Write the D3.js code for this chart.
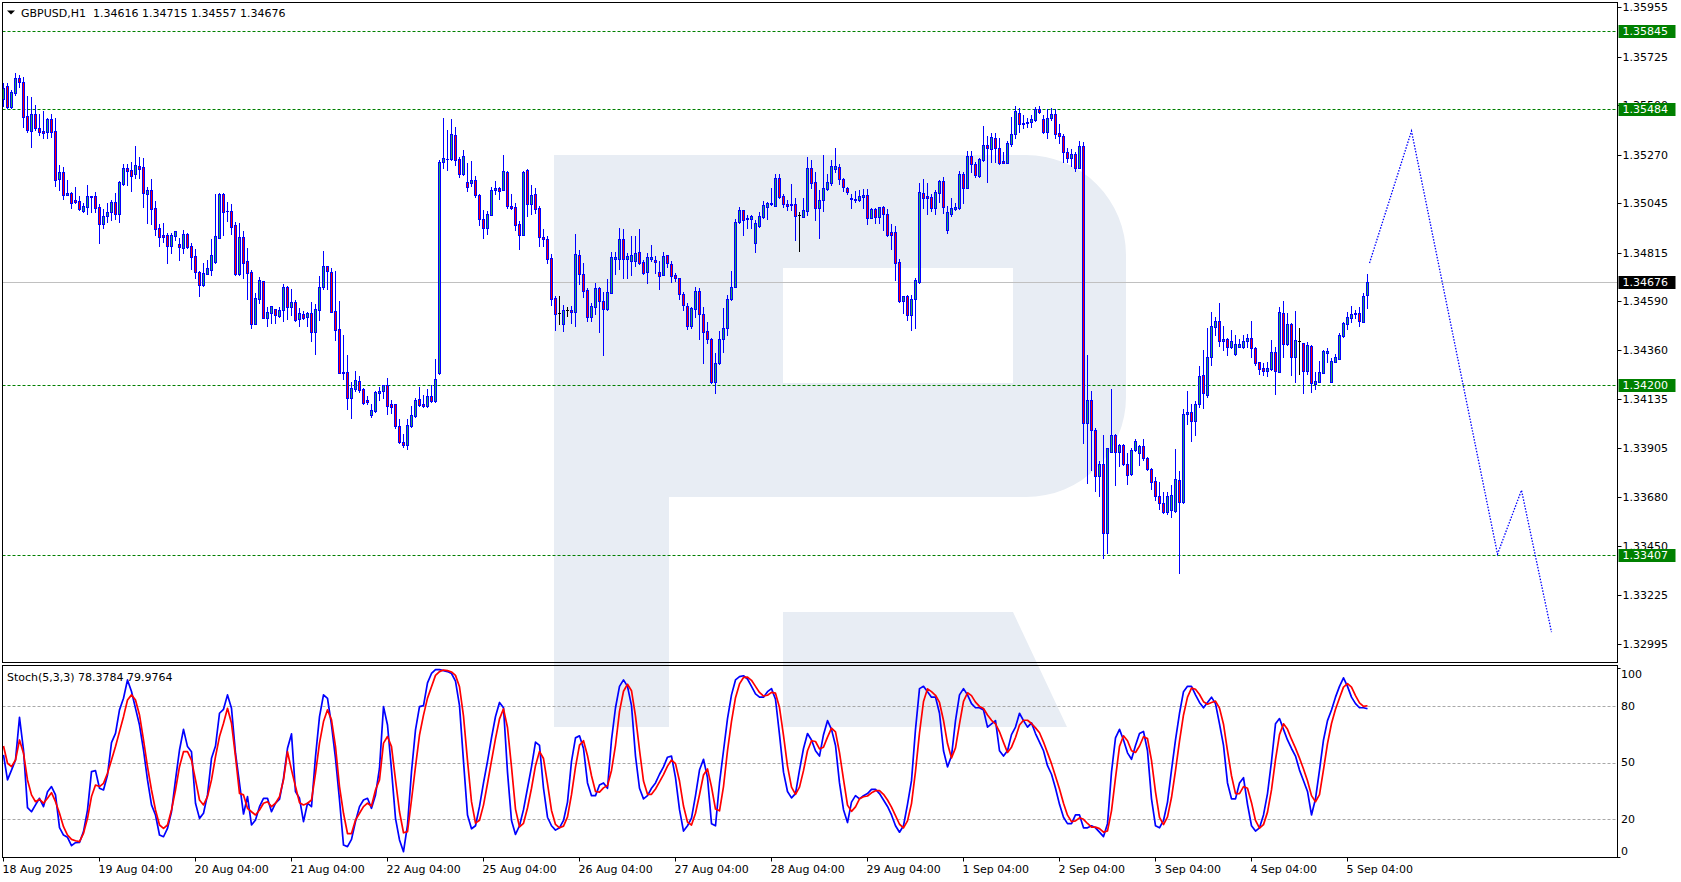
<!DOCTYPE html>
<html><head><meta charset="utf-8">
<script src="https://cdn.jsdelivr.net/npm/d3@7"></script>
<style>
html,body{margin:0;padding:0;background:#fff;}
svg{display:block;font-family:"DejaVu Sans",sans-serif;}
</style></head><body>
<svg id="c" width="1681" height="882"></svg>
<script>
const symbolTitle = "GBPUSD,H1  1.34616 1.34715 1.34557 1.34676";
const stochTitle = "Stoch(5,3,3) 78.3784 79.9764";

const open = [
1.35529,1.35588,1.35493,1.35558,1.35625,1.35606,1.35450,1.35382,1.35458,1.35393,
1.35380,1.35377,1.35434,1.35380,1.35158,1.35188,1.35084,1.35092,1.35058,1.35055,
1.35010,1.35028,1.35076,1.35076,1.35025,1.34949,1.34986,1.35002,1.35050,1.34993,
1.35135,1.35207,1.35197,1.35179,1.35216,1.35211,1.35089,1.35104,1.35021,1.34928,
1.34895,1.34897,1.34847,1.34893,1.34853,1.34838,1.34900,1.34844,1.34797,1.34726,
1.34664,1.34717,1.34735,1.34771,1.34884,1.35087,1.35008,1.35008,1.34943,1.34713,
1.34887,1.34775,1.34724,1.34484,1.34597,1.34681,1.34512,1.34535,1.34551,1.34521,
1.34546,1.34653,1.34563,1.34585,1.34507,1.34527,1.34517,1.34532,1.34447,1.34549,
1.34656,1.34752,1.34724,1.34543,1.34459,1.34258,1.34258,1.34137,1.34182,1.34217,
1.34180,1.34129,1.34058,1.34079,1.34163,1.34172,1.34197,1.34113,1.34110,1.34008,
1.33935,1.33918,1.34010,1.34056,1.34134,1.34110,1.34100,1.34148,1.34126,1.34253,
1.35234,1.35251,1.35251,1.35363,1.35249,1.35179,1.35143,1.35140,1.35153,1.35083,
1.34971,1.34931,1.34991,1.35106,1.35115,1.35106,1.35190,1.35032,1.35025,1.34948,
1.34898,1.35199,1.35042,1.35086,1.35021,1.34887,1.34878,1.34790,1.34604,1.34533,
1.34481,1.34546,1.34548,1.34540,1.34804,1.34715,1.34641,1.34514,1.34564,1.34650,
1.34590,1.34551,1.34629,1.34787,1.34784,1.34877,1.34784,1.34777,1.34777,1.34816,
1.34770,1.34723,1.34784,1.34781,1.34723,1.34712,1.34802,1.34760,1.34709,1.34695,
1.34621,1.34568,1.34475,1.34551,1.34636,1.34527,1.34450,1.34413,1.34214,1.34300,
1.34411,1.34465,1.34597,1.34656,1.34958,1.35011,1.34969,1.34969,1.34861,1.34940,
1.34982,1.35028,1.35039,1.35033,1.35160,1.35076,1.35039,1.35036,1.35040,1.34989,
1.34982,1.35009,1.35206,1.35143,1.35023,1.35059,1.35112,1.35140,1.35205,1.35212,
1.35157,1.35113,1.35070,1.35061,1.35061,1.35075,1.35082,1.34977,1.35017,1.34982,
1.35026,1.34994,1.34910,1.34910,1.34769,1.34591,1.34611,1.34524,1.34597,1.34676,
1.35090,1.35077,1.35073,1.35023,1.35094,1.35147,1.34921,1.34995,1.35017,1.35023,
1.35180,1.35116,1.35266,1.35226,1.35172,1.35245,1.35315,1.35296,1.35349,1.35301,
1.35240,1.35232,1.35319,1.35364,1.35462,1.35417,1.35415,1.35420,1.35432,1.35482,
1.35435,1.35377,1.35442,1.35459,1.35369,1.35356,1.35284,1.35256,1.35271,1.35206,
1.35310,1.34023,1.34129,1.33992,1.33777,1.33831,1.33513,1.33889,1.33966,1.33889,
1.33920,1.33834,1.33785,1.33896,1.33885,1.33916,1.33858,1.33807,1.33753,1.33685,
1.33649,1.33607,1.33618,1.33615,1.33758,1.33654,1.34064,1.34072,1.34033,1.34109,
1.34244,1.34153,1.34331,1.34471,1.34497,1.34405,1.34412,1.34378,1.34342,1.34378,
1.34378,1.34405,1.34416,1.34373,1.34306,1.34278,1.34263,1.34275,1.34351,1.34261,
1.34536,1.34391,1.34483,1.34331,1.34404,1.34393,1.34266,1.34381,1.34204,1.34215,
1.34257,1.34350,1.34215,1.34308,1.34322,1.34429,1.34483,1.34512,1.34528,1.34536,
1.34494,1.34616];
const high = [
1.35602,1.35602,1.35571,1.35648,1.35641,1.35630,1.35543,1.35538,1.35501,1.35458,
1.35473,1.35439,1.35458,1.35442,1.35222,1.35213,1.35152,1.35098,1.35120,1.35078,
1.35044,1.35129,1.35076,1.35098,1.35039,1.35016,1.35047,1.35059,1.35090,1.35148,
1.35227,1.35227,1.35234,1.35310,1.35259,1.35253,1.35120,1.35155,1.35055,1.34946,
1.34951,1.34904,1.34904,1.34917,1.34884,1.34920,1.34904,1.34858,1.34830,1.34729,
1.34765,1.34780,1.34878,1.35087,1.35093,1.35093,1.35051,1.35040,1.34957,1.34951,
1.34915,1.34834,1.34734,1.34625,1.34701,1.34681,1.34563,1.34568,1.34552,1.34561,
1.34667,1.34659,1.34645,1.34594,1.34555,1.34544,1.34538,1.34586,1.34575,1.34707,
1.34822,1.34754,1.34741,1.34729,1.34591,1.34431,1.34338,1.34211,1.34264,1.34241,
1.34183,1.34148,1.34110,1.34172,1.34188,1.34199,1.34233,1.34129,1.34113,1.34039,
1.33969,1.34039,1.34101,1.34140,1.34191,1.34152,1.34180,1.34199,1.34320,1.35245,
1.35439,1.35385,1.35434,1.35400,1.35261,1.35292,1.35233,1.35241,1.35171,1.35087,
1.35013,1.35008,1.35118,1.35148,1.35118,1.35269,1.35194,1.35087,1.35044,1.34962,
1.35193,1.35202,1.35129,1.35114,1.35029,1.34923,1.34892,1.34808,1.34613,1.34613,
1.34571,1.34564,1.34567,1.34901,1.34827,1.34768,1.34649,1.34581,1.34674,1.34657,
1.34633,1.34692,1.34819,1.34819,1.34931,1.34925,1.34812,1.34892,1.34892,1.34925,
1.34781,1.34812,1.34850,1.34799,1.34776,1.34818,1.34805,1.34776,1.34722,1.34698,
1.34632,1.34579,1.34563,1.34654,1.34648,1.34563,1.34493,1.34416,1.34346,1.34451,
1.34555,1.34617,1.34729,1.34971,1.35026,1.35013,1.34989,1.34989,1.34966,1.35005,
1.35054,1.35051,1.35113,1.35180,1.35180,1.35087,1.35059,1.35133,1.35067,1.35005,
1.35067,1.35261,1.35245,1.35191,1.35106,1.35268,1.35180,1.35245,1.35301,1.35225,
1.35163,1.35118,1.35085,1.35102,1.35106,1.35109,1.35109,1.35020,1.35020,1.35028,
1.35031,1.35017,1.34946,1.34938,1.34785,1.34613,1.34616,1.34616,1.34695,1.35139,
1.35156,1.35136,1.35085,1.35105,1.35152,1.35167,1.35031,1.35067,1.35046,1.35195,
1.35191,1.35287,1.35287,1.35237,1.35253,1.35403,1.35358,1.35372,1.35369,1.35346,
1.35284,1.35333,1.35446,1.35496,1.35488,1.35454,1.35439,1.35454,1.35493,1.35496,
1.35454,1.35480,1.35485,1.35480,1.35412,1.35366,1.35302,1.35296,1.35284,1.35333,
1.35330,1.34338,1.34171,1.33997,1.33847,1.33966,1.33907,1.34180,1.33969,1.33927,
1.33923,1.33881,1.33904,1.33947,1.33920,1.33948,1.33863,1.33812,1.33773,1.33747,
1.33700,1.33700,1.33734,1.33900,1.33799,1.34086,1.34171,1.34111,1.34126,1.34288,
1.34362,1.34466,1.34540,1.34517,1.34582,1.34474,1.34416,1.34455,1.34432,1.34412,
1.34432,1.34436,1.34497,1.34378,1.34308,1.34300,1.34305,1.34409,1.34378,1.34560,
1.34590,1.34536,1.34489,1.34543,1.34463,1.34396,1.34401,1.34385,1.34258,1.34311,
1.34362,1.34373,1.34323,1.34343,1.34443,1.34494,1.34540,1.34567,1.34548,1.34564,
1.34629,1.34715];
const low = [
1.35498,1.35486,1.35489,1.35548,1.35586,1.35400,1.35377,1.35307,1.35385,1.35362,
1.35349,1.35349,1.35354,1.35126,1.35106,1.35064,1.35082,1.35024,1.35044,1.35013,
1.35005,1.34994,1.35005,1.35005,1.34861,1.34931,1.34959,1.34966,1.34971,1.34959,
1.35129,1.35129,1.35101,1.35163,1.35160,1.35028,1.34954,1.34948,1.34897,1.34845,
1.34866,1.34768,1.34814,1.34873,1.34780,1.34814,1.34835,1.34738,1.34698,1.34614,
1.34661,1.34714,1.34711,1.34768,1.34881,1.34897,1.34962,1.34899,1.34710,1.34710,
1.34698,1.34599,1.34465,1.34482,1.34582,1.34509,1.34473,1.34489,1.34489,1.34517,
1.34496,1.34506,1.34524,1.34495,1.34473,1.34506,1.34473,1.34405,1.34343,1.34501,
1.34647,1.34647,1.34538,1.34408,1.34253,1.34227,1.34087,1.34047,1.34172,1.34168,
1.34113,1.34113,1.34051,1.34075,1.34129,1.34140,1.34064,1.34070,1.33997,1.33928,
1.33912,1.33900,1.34005,1.34048,1.34101,1.34095,1.34095,1.34121,1.34121,1.34250,
1.35206,1.35199,1.35245,1.35222,1.35168,1.35174,1.35103,1.35125,1.35072,1.34943,
1.34884,1.34901,1.34990,1.35087,1.35063,1.35106,1.35021,1.35019,1.34920,1.34832,
1.34895,1.34985,1.34994,1.34998,1.34843,1.34843,1.34768,1.34571,1.34455,1.34483,
1.34452,1.34520,1.34489,1.34474,1.34669,1.34610,1.34498,1.34498,1.34529,1.34447,
1.34339,1.34548,1.34629,1.34715,1.34737,1.34698,1.34698,1.34711,1.34750,1.34762,
1.34715,1.34675,1.34777,1.34722,1.34647,1.34712,1.34746,1.34680,1.34684,1.34598,
1.34548,1.34459,1.34465,1.34517,1.34411,1.34300,1.34396,1.34207,1.34160,1.34296,
1.34351,1.34431,1.34594,1.34656,1.34954,1.34898,1.34927,1.34927,1.34819,1.34935,
1.34974,1.34969,1.35036,1.35031,1.35067,1.35028,1.35013,1.35013,1.34873,1.34823,
1.34982,1.34989,1.35116,1.34966,1.34884,1.35008,1.35106,1.35129,1.35191,1.35132,
1.35102,1.35087,1.35020,1.35051,1.35054,1.35020,1.34947,1.34974,1.34954,1.34954,
1.34920,1.34892,1.34831,1.34687,1.34586,1.34532,1.34501,1.34455,1.34462,1.34674,
1.35023,1.34992,1.35008,1.34992,1.35051,1.34997,1.34907,1.34986,1.35012,1.35017,
1.35046,1.35113,1.35191,1.35167,1.35167,1.35240,1.35144,1.35237,1.35237,1.35226,
1.35229,1.35229,1.35311,1.35346,1.35377,1.35392,1.35400,1.35400,1.35426,1.35462,
1.35372,1.35349,1.35431,1.35349,1.35325,1.35234,1.35237,1.35218,1.35194,1.35206,
1.33930,1.33744,1.33803,1.33706,1.33684,1.33393,1.33416,1.33889,1.33734,1.33823,
1.33827,1.33741,1.33780,1.33892,1.33827,1.33851,1.33804,1.33716,1.33665,1.33621,
1.33603,1.33599,1.33584,1.33610,1.33327,1.33652,1.34018,1.33940,1.33967,1.34099,
1.34094,1.34145,1.34292,1.34432,1.34382,1.34362,1.34339,1.34373,1.34339,1.34374,
1.34370,1.34374,1.34328,1.34292,1.34250,1.34246,1.34241,1.34269,1.34157,1.34261,
1.34328,1.34385,1.34246,1.34215,1.34250,1.34161,1.34250,1.34168,1.34182,1.34215,
1.34257,1.34308,1.34215,1.34308,1.34319,1.34424,1.34460,1.34494,1.34509,1.34474,
1.34494,1.34557];
const close = [
1.35582,1.35493,1.35560,1.35625,1.35610,1.35447,1.35385,1.35458,1.35396,1.35377,
1.35372,1.35434,1.35377,1.35152,1.35188,1.35082,1.35092,1.35047,1.35051,1.35017,
1.35030,1.35076,1.35075,1.35021,1.34949,1.34983,1.35003,1.35050,1.34993,1.35141,
1.35207,1.35196,1.35172,1.35222,1.35205,1.35093,1.35104,1.35017,1.34926,1.34886,
1.34889,1.34847,1.34895,1.34914,1.34842,1.34900,1.34841,1.34796,1.34726,1.34664,
1.34718,1.34742,1.34802,1.34890,1.35087,1.35005,1.35007,1.34935,1.34713,1.34887,
1.34768,1.34721,1.34484,1.34602,1.34685,1.34512,1.34537,1.34565,1.34526,1.34546,
1.34653,1.34563,1.34585,1.34501,1.34532,1.34512,1.34532,1.34447,1.34551,1.34653,
1.34752,1.34727,1.34540,1.34456,1.34256,1.34256,1.34137,1.34185,1.34222,1.34175,
1.34117,1.34121,1.34082,1.34166,1.34169,1.34197,1.34103,1.34098,1.34010,1.33932,
1.33920,1.34013,1.34059,1.34129,1.34107,1.34100,1.34148,1.34126,1.34227,1.35236,
1.35254,1.35250,1.35366,1.35245,1.35179,1.35264,1.35118,1.35153,1.35083,1.34970,
1.34931,1.34994,1.35106,1.35115,1.35103,1.35193,1.35032,1.35022,1.34945,1.34898,
1.35190,1.35042,1.35081,1.35019,1.34889,1.34877,1.34787,1.34601,1.34531,1.34533,
1.34548,1.34546,1.34540,1.34808,1.34714,1.34638,1.34514,1.34565,1.34650,1.34588,
1.34551,1.34630,1.34794,1.34794,1.34877,1.34787,1.34799,1.34802,1.34812,1.34768,
1.34722,1.34794,1.34794,1.34770,1.34708,1.34799,1.34765,1.34708,1.34695,1.34621,
1.34570,1.34475,1.34555,1.34636,1.34527,1.34447,1.34411,1.34214,1.34300,1.34411,
1.34462,1.34597,1.34656,1.34955,1.35011,1.34968,1.34977,1.34985,1.34951,1.34985,
1.35034,1.35044,1.35044,1.35160,1.35075,1.35039,1.35033,1.35040,1.34986,1.34989,
1.35013,1.35206,1.35140,1.35023,1.35059,1.35113,1.35141,1.35217,1.35217,1.35155,
1.35118,1.35098,1.35062,1.35064,1.35076,1.35082,1.34977,1.35017,1.34982,1.35026,
1.34992,1.34896,1.34898,1.34765,1.34591,1.34611,1.34524,1.34599,1.34687,1.35096,
1.35070,1.35067,1.35023,1.35098,1.35147,1.35028,1.35003,1.35020,1.35026,1.35180,
1.35116,1.35263,1.35225,1.35175,1.35249,1.35315,1.35299,1.35350,1.35299,1.35232,
1.35232,1.35322,1.35366,1.35473,1.35411,1.35411,1.35423,1.35435,1.35482,1.35466,
1.35377,1.35439,1.35457,1.35367,1.35358,1.35284,1.35256,1.35271,1.35206,1.35310,
1.34023,1.34129,1.33989,1.33777,1.33831,1.33509,1.33904,1.33966,1.33889,1.33920,
1.33834,1.33783,1.33896,1.33940,1.33915,1.33858,1.33807,1.33750,1.33685,1.33649,
1.33607,1.33685,1.33686,1.33761,1.33657,1.34064,1.34072,1.34033,1.34111,1.34241,
1.34161,1.34328,1.34474,1.34497,1.34405,1.34413,1.34378,1.34404,1.34388,1.34390,
1.34404,1.34416,1.34370,1.34303,1.34275,1.34263,1.34278,1.34351,1.34266,1.34537,
1.34391,1.34483,1.34328,1.34409,1.34404,1.34266,1.34384,1.34207,1.34216,1.34258,
1.34357,1.34359,1.34311,1.34329,1.34432,1.34486,1.34514,1.34528,1.34536,1.34498,
1.34612,1.34676];

const stochK = [
54,40.8,46,51.3,73.9,56.6,26.2,24,27.6,31.1,
26.7,34.6,37.3,32.9,15.6,11.7,10.5,6.1,7.7,7.8,
13.5,24.9,45.2,45.7,36.4,35.5,43.4,60.5,65.4,77.8,
83.9,93.6,87.5,78.6,69.8,56.6,40.8,27.6,22.3,11.7,
10.8,15.2,24,40.8,56.6,67.5,58.4,55.7,28.5,20.5,
23.2,32.9,52.2,58.7,76,78.1,85.7,78.6,54.9,39,
22.8,32,17,19.6,26.7,31.1,31.1,24,28.5,30.6,
41.6,57.5,65.1,34.6,31.1,18.8,28.5,26.7,53.1,74.2,
85.7,83.9,69.8,52.2,30.2,6.4,5.6,9.4,18.8,26.7,
30.2,31.1,25.8,32.9,47,79.5,69.8,46.1,20.5,9.1,
2.9,17,45.2,67.2,79.5,80,92,97,99,99,
98.5,98,97,93,80,50.6,22.3,15,16.6,26.8,
39.2,50.6,63,74.3,81.7,78.9,44.9,19.4,12,16.6,
25.1,36.4,47.7,60.8,59,36.4,21.1,16.6,14.3,15.5,
19.4,29.1,50.6,63,64.1,57.4,39.2,32.5,32.5,38.1,
39.2,36.4,61.9,78.9,90.2,93.6,90.2,80,53.4,36.4,
30.8,32.5,36.4,39.2,43.8,47.7,52.8,53.4,42,25.1,
13.8,16.6,20.6,32.5,46,51.7,42,17.7,16.6,39.2,
56.2,73.2,85.7,93.6,95.3,95.8,94.1,90.2,86.2,84.5,
84.5,87.4,89,83.4,64.7,44.9,34.7,31.3,33.6,46,
57.4,65.3,61.9,56.2,53.4,64.7,72.1,67.5,59,39.2,
25.1,18.3,29.1,32.5,30.8,32.5,33.6,35.8,35.8,33.6,
30.2,26.8,22.3,16.6,13.2,16.6,27.9,40.4,67.5,89,
90.2,87.4,84.5,84.5,76,56.2,47.7,53.4,72.1,85.7,
89,85.7,81.1,78.9,78.9,77.7,68.7,70.4,72.1,56.2,
53.4,56.2,64.7,68.7,76,72.1,68.7,70.9,65.3,60.8,
56.2,48.3,43.8,36.4,27.9,21.1,17.7,17.7,22.3,22.3,
15.5,15.5,16.6,15.5,13.2,10.9,17.7,44.9,63,67.5,
61.9,55.1,51.7,59,65.3,66.4,56.2,30.8,16.6,15.5,
19.4,29.1,46,61.9,76,87.4,90.2,90.2,85.7,81.7,
78.9,81.7,84.5,81.1,70.4,59,39.2,30.8,30.8,39.2,
42,27.9,16.6,13.8,15.5,22.3,33.6,50.6,70.4,73.2,
67.5,61.9,57.4,53.4,46,40.4,34.7,22.3,30.8,46,
61.9,72.1,77.7,84.5,90.2,94.7,90.2,84.5,81.1,78.9,
78.9,78.38];
const stochD = [
58.7,49.6,47.8,51.3,61.9,54.9,40.8,32.9,29.3,30.6,
28.5,31.1,34.1,29.3,23.2,16.1,11.7,9.4,8.7,8.2,
12.6,20.5,32,38.1,37.3,39,44.3,51.3,58.4,66.3,
74.2,83,85.7,83,75.1,61.9,47.8,35.5,24.9,17,
15.2,17,24.9,35.5,47.8,55.7,55.7,51.3,40.8,30.2,
27.6,32,40.8,53.1,63.7,70.7,78.6,70.7,53.1,33.7,
32.9,25.8,24,22.3,24.9,28.5,29.3,26.7,28.5,32,
40.8,55.7,46.1,37.3,28.8,27.6,28.5,30.2,44.3,60.2,
71.6,77.8,72.5,58.4,37.3,23.2,12.5,12.5,19.6,23.2,
26.7,28.5,27,35.5,40.8,60.2,63.7,58.4,40.8,24,
12.9,13.5,30.2,47.8,64.5,75,84,90,96,98,
98.8,98.5,97.8,96,90,74.5,51,29.3,18,19.5,
27.5,38.9,50.9,62.6,73,78.3,68.5,47.7,25.4,16,
17.9,26,36.4,48.3,55.8,52.1,38.8,24.7,17.3,15.5,
16.4,21.3,33,47.6,59.2,61.5,53.6,43,34.7,34.4,
36.6,37.9,45.8,59.1,77,87.6,91.3,87.9,74.5,56.6,
40.2,33.2,33.2,36,39.8,43.6,48.1,51.3,49.4,40.2,
27,18.5,17,23.2,33,43.4,46.6,37.1,25.4,24.5,
37.3,56.2,71.7,84.2,91.5,94.9,95.1,93.4,90.2,87,
85.1,85.5,87,86.6,79,64.3,48.1,37,33.2,37,
45.7,56.2,61.5,61.1,57.2,58.1,63.4,68.1,66.2,55.2,
41.1,27.5,24.2,26.6,30.8,31.9,32.3,34,35.1,35.1,
33.2,30.2,26.4,21.9,17.4,15.5,19.2,28.3,45.3,65.6,
82.2,88.9,87.4,85.5,81.7,72.2,60,52.4,57.7,70.4,
82.3,86.8,85.3,81.9,79.6,78.5,75.1,72.3,70.4,66.2,
60.6,55.3,58.1,63.2,69.8,72.3,72.3,70.6,68.3,65.7,
60.8,55.1,49.4,42.8,36,28.5,22.2,18.8,19.2,20.8,
20,17.8,15.9,15.9,15.1,13.2,13.9,24.5,41.9,58.5,
64.1,61.5,56.2,55.3,58.7,63.6,62.6,51.1,34.5,21,
17.2,21.3,31.5,45.7,61.3,75.1,84.5,89.3,88.7,85.9,
82.1,80.8,81.7,82.4,78.7,70.2,56.2,43,33.6,33.6,
37.3,36.4,28.8,19.4,15.3,17.2,23.8,35.5,51.5,64.7,
70.4,67.5,62.3,57.6,52.3,46.6,40.4,32.5,29.3,33,
46.2,60,70.6,78.1,84.1,89.8,91.7,89.8,85.3,81.5,
79.6,79.98];

const priceTicks = [1.35955,1.35725,1.35500,1.35270,1.35045,1.34815,1.34590,1.34360,1.34135,1.33905,1.33680,1.33450,1.33225,1.32995];
const levelPrices = [1.35845,1.35484,1.34200,1.33407];
const lastPrice = 1.34676;
const timeLabels = ["18 Aug 2025","19 Aug 04:00","20 Aug 04:00","21 Aug 04:00","22 Aug 04:00","25 Aug 04:00","26 Aug 04:00","27 Aug 04:00","28 Aug 04:00","29 Aug 04:00","1 Sep 04:00","2 Sep 04:00","3 Sep 04:00","4 Sep 04:00","5 Sep 04:00"];
const timeLabelIdx = [0,24,48,72,96,120,144,168,192,216,240,264,288,312,336];
const forecastIdx = [341.5,352,373.5,379.5,387];
const forecastPrice = [1.34766,1.35380,1.33413,1.33710,1.33050];
const stochLevels = [80,50,20];
const stochLabels = [100,80,50,20,0];

const svg = d3.select("#c");
const L = 2.5, R = 1617.5, mainTop = 2.5, mainBot = 662.5, stTop = 665.5, stBot = 857.5;
const x = d3.scaleLinear().domain([0, 341]).range([3.5, 1367.5]);
const y = d3.scaleLinear().domain([1.32995, 1.35955]).range([644, 7.3]);
const ys = d3.scaleLinear().domain([0, 100]).range([857.2, 667.8]);
const GREEN = "#2aa55a", RED = "#ff0000", BLUE = "#0000ff";

svg.append("rect").attr("width",1681).attr("height",882).attr("fill","#fff");

// watermark
const wm = svg.append("g").attr("fill","#e8edf4");
wm.append("rect").attr("x",554).attr("y",155).attr("width",115).attr("height",572);
wm.append("path").attr("fill-rule","evenodd")
  .attr("d","M554,155 H1026 A100,100 0 0 1 1126,255 V397 A100,100 0 0 1 1026,497 H554 Z M783,268 H1013 V383 H783 Z");
wm.append("path").attr("d","M783,612 H1013 L1067,727 H783 Z");

svg.append("defs").html(`<clipPath id="mclip"><rect x="${L}" y="${mainTop}" width="${R-L}" height="${mainBot-mainTop}"/></clipPath><clipPath id="sclip"><rect x="${L}" y="${stTop}" width="${R-L}" height="${stBot-stTop}"/></clipPath>`);

const main = svg.append("g").attr("clip-path","url(#mclip)");
levelPrices.forEach(p => {
  const yy = Math.round(y(p)) + 0.5;
  main.append("line").attr("x1",L).attr("x2",R).attr("y1",yy).attr("y2",yy)
    .attr("stroke","#008000").attr("stroke-dasharray","3,2");
});
{
  const yy = Math.round(y(lastPrice)) + 0.5;
  main.append("line").attr("x1",L).attr("x2",R).attr("y1",yy).attr("y2",yy).attr("stroke","#c0c0c0");
}
const idx = d3.range(close.length);
const cg = main.append("g");
idx.forEach(i => {
  const cx = x(i);
  const o = open[i], c = close[i];
  const doji = o === c;
  const col = doji ? "#000" : BLUE;
  const yh = Math.round(y(high[i])), yl = Math.round(y(low[i]));
  cg.append("rect").attr("x", cx-0.5).attr("y", yh).attr("width",1).attr("height", Math.max(1, yl-yh+1)).attr("fill", col);
  const yt = Math.round(y(Math.max(o,c))), yb = Math.round(y(Math.min(o,c)));
  if (doji) {
    cg.append("rect").attr("x", cx-1.5).attr("y", yt).attr("width",3).attr("height",1).attr("fill","#000");
  } else {
    cg.append("rect").attr("x", cx-1.5).attr("y", yt).attr("width",3).attr("height", Math.max(1, yb-yt+1)).attr("fill", BLUE);
    if (yb - yt >= 2) {
      cg.append("rect").attr("x", cx-0.5).attr("y", yt+1).attr("width",1).attr("height", yb-yt-1)
        .attr("fill", c > o ? GREEN : RED);
    }
  }
});
main.append("path")
  .attr("d", d3.line().x((d,i)=>x(forecastIdx[i])).y(d=>y(d))(forecastPrice))
  .attr("fill","none").attr("stroke",BLUE).attr("stroke-width",1.3).attr("stroke-dasharray","1.5,1.5");

const sg = svg.append("g").attr("clip-path","url(#sclip)");
stochLevels.forEach(v => {
  const yy = Math.round(ys(v)) + 0.5;
  sg.append("line").attr("x1",L).attr("x2",R).attr("y1",yy).attr("y2",yy)
    .attr("stroke","#a8a8a8").attr("stroke-dasharray","3,2");
});
sg.append("path").attr("d", d3.line().x((d,i)=>x(i)).y(d=>ys(d))(stochK))
  .attr("fill","none").attr("stroke",BLUE).attr("stroke-width",1.7).attr("stroke-linejoin","round");
sg.append("path").attr("d", d3.line().x((d,i)=>x(i)).y(d=>ys(d))(stochD))
  .attr("fill","none").attr("stroke",RED).attr("stroke-width",1.7).attr("stroke-linejoin","round");

svg.append("rect").attr("x",L).attr("y",mainTop).attr("width",R-L).attr("height",mainBot-mainTop)
  .attr("fill","none").attr("stroke","#000");
svg.append("rect").attr("x",L).attr("y",stTop).attr("width",R-L).attr("height",stBot-stTop)
  .attr("fill","none").attr("stroke","#000");

const ax = svg.append("g").attr("font-size",11).attr("fill","#000");
priceTicks.forEach(p => {
  const yy = Math.round(y(p)) + 0.5;
  ax.append("line").attr("x1",R).attr("x2",R+4).attr("y1",yy).attr("y2",yy).attr("stroke","#000");
  ax.append("text").attr("x",1622.5).attr("y",yy).attr("dy","0.36em").text(p.toFixed(5));
});
function priceBox(p, fill) {
  const yy = Math.round(y(p)) + 0.5;
  ax.append("rect").attr("x",1618.5).attr("y",yy-6.5).attr("width",57).attr("height",13).attr("fill",fill);
  ax.append("text").attr("x",1622.5).attr("y",yy).attr("dy","0.36em").attr("fill","#fff").text(p.toFixed(5));
}
levelPrices.forEach(p => priceBox(p, "#008000"));
priceBox(lastPrice, "#000");

stochLabels.forEach(v => {
  const yy = Math.min(851, Math.max(674, ys(v)));
  ax.append("text").attr("x",1621).attr("y",yy).attr("dy","0.36em").text(v);
});
[100,0].forEach(v => {
  const yy = Math.round(ys(v)) + 0.5;
  ax.append("line").attr("x1",R).attr("x2",R+3).attr("y1",yy).attr("y2",yy).attr("stroke","#000");
});

timeLabelIdx.forEach((k, j) => {
  const xx = x(k);
  ax.append("line").attr("x1",xx).attr("x2",xx).attr("y1",stBot).attr("y2",stBot+4).attr("stroke","#000");
  ax.append("text").attr("x",xx-1).attr("y",869).attr("dy","0.36em").text(timeLabels[j]);
});

svg.append("path").attr("d","M7,10.5 H15 L11,14.5 Z").attr("fill","#000");
svg.append("text").attr("x",21).attr("y",12.7).attr("dy","0.36em").attr("font-size",11).attr("fill","#000")
  .style("white-space","pre").text(symbolTitle);
svg.append("text").attr("x",7).attr("y",676.7).attr("dy","0.36em").attr("font-size",11).attr("fill","#000")
  .text(stochTitle);
</script>
</body></html>
